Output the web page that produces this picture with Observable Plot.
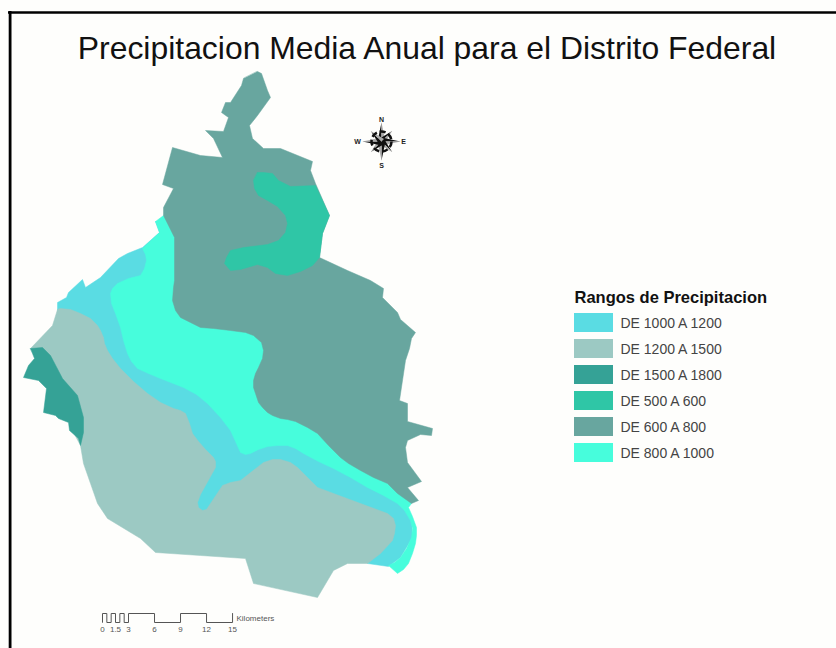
<!DOCTYPE html>
<html><head><meta charset="utf-8">
<script src="https://cdn.jsdelivr.net/npm/d3@7"></script>
<script src="https://cdn.jsdelivr.net/npm/@observablehq/plot@0.6"></script>
<style>html,body{margin:0;padding:0;background:#fefefc}svg{display:block}</style>
</head><body><div id="chart"></div>
<script>
const titleText = "Precipitacion Media Anual para el Distrito Federal";
const legendTitle = "Rangos de Precipitacion";
const rangeLabels = ["DE 1000 A 1200","DE 1200 A 1500","DE 1500 A 1800","DE 500 A 600","DE 600 A 800","DE 800 A 1000"];
const rangeColors = ["#5adce3","#9cc9c3","#35a296","#2fc6a6","#68a69f","#47fddc"];
const kmTicks = [0,1.5,3,6,9,12,15];
const kmSteps = [0,0,0.5,1,1.5,2,2.5,3,6,9,12,15];

const region1000 = [[155,221],[159,232],[142,247],[127,253],[118,258],[100,277],[85,287],[82,279],[68,292],[66,297],[57,302],[57,310],[100,400],[170,470],[195,516],[240,510],[340,510],[367,563],[388,566],[400,557],[412,537],[411,515],[390,490],[300,440],[250,420],[170,320],[165,240]];
const region1200 = [[57,309],[52,325],[30,348],[40,362],[60,400],[72,430],[80,445],[83,463],[90,483],[97,503],[107,518],[140,538],[155,552],[200,555],[245,558],[253,583],[317,597],[333,570],[347,563],[367,563],[380,553],[392,540],[394,533],[395,525],[393,518],[387,513],[360,503],[333,493],[317,487],[307,477],[297,467],[290,462],[280,459],[272,459],[263,462],[240,480],[230,482],[222,485],[216,494],[210,503],[206,509],[202,510],[198,507],[197,502],[200,494],[205,485],[210,476],[215,467],[215,461],[213,457],[205,449],[198,441],[192,433],[189,423],[185,413],[180,410],[173,408],[160,402],[147,393],[133,381],[120,368],[112,358],[107,350],[104,343],[103,337],[100,330],[97,325],[90,318],[80,313],[70,309],[60,308]];
const region1500 = [[30,348],[42,347],[50,355],[62,378],[77,395],[83,417],[83,432],[80,445],[78,438],[69,430],[68,422],[58,418],[55,415],[43,412],[46,388],[38,380],[23,377],[28,365],[34,358],[32,353]];
const region800 = [[163,215],[155,221],[159,232],[142,248],[145,254],[146,260],[144,268],[140,275],[128,278],[117,283],[112,288],[110,293],[111,303],[115,313],[120,327],[123,340],[127,353],[131,361],[137,368],[148,373],[160,378],[183,387],[196,394],[207,403],[220,417],[230,430],[235,441],[240,452],[245,454],[250,453],[258,449],[267,446],[277,445],[287,445],[295,448],[303,453],[318,461],[333,468],[350,477],[367,487],[383,495],[397,503],[404,510],[410,520],[412,528],[411,537],[406,548],[400,557],[394,562],[388,565],[397,573],[403,569],[408,563],[412,553],[415,543],[416,535],[416,527],[412,516],[408,507],[411,503],[400,480],[320,400],[300,320],[200,240]];
const region600 = [[257,71],[261,73],[267,90],[270,97],[257,115],[249,125],[252,138],[263,148],[280,148],[312,161],[310,170],[315,183],[329,215],[322,233],[319,257],[347,270],[370,280],[383,288],[382,297],[397,312],[400,319],[415,332],[411,338],[409,348],[405,360],[399,400],[407,403],[407,421],[432,428],[431,435],[420,434],[407,440],[405,447],[407,462],[421,481],[407,487],[418,500],[411,503],[397,493],[387,483],[373,477],[360,470],[348,463],[340,457],[328,445],[317,433],[307,427],[295,421],[287,419],[280,418],[272,415],[267,412],[262,407],[258,402],[255,393],[253,387],[253,380],[255,373],[258,367],[262,358],[263,350],[261,342],[253,335],[245,332],[230,330],[213,328],[200,327],[190,322],[180,317],[175,310],[172,300],[173,287],[174,280],[174,237],[163,215],[163,207],[173,188],[162,184],[172,147],[200,155],[222,157],[213,138],[205,130],[223,131],[228,117],[221,112],[225,102],[230,102],[241,85],[243,78]];
const region500 = [[257,172],[263,172],[272,173],[278,180],[290,186],[315,185],[329,215],[322,233],[319,257],[312,265],[300,271],[287,275],[275,273],[267,267],[257,264],[240,269],[230,270],[224,263],[226,257],[230,250],[243,247],[267,244],[278,240],[285,232],[287,223],[285,215],[277,206],[267,200],[258,195],[254,188],[253,180]];

const poly = (pts, fill) => Plot.line(pts, {x: d => d[0], y: d => d[1], fill, stroke: fill, strokeWidth: 0.5, curve: "linear-closed"});

// legend layout
const legendRows = rangeLabels.map((label, i) => ({label, color: rangeColors[i], top: 313 + i * 26}));

// scale bar layout
const kmX = km => 102 + km * 8.67;
const barPts = kmSteps.map((km, i) => ({x: kmX(km), y: i % 2 === 1 ? 613 : 622}));

// compass
const cx = 381, cy = 141;
const compass = [];
for (let k = 0; k < 8; k++) {
  const a = k * Math.PI / 4, long = k % 2 === 0, r = long ? 19 : 15, w = long ? 4 : 3.5;
  const tip = [cx + r * Math.sin(a), cy - r * Math.cos(a)];
  const left = [cx + w * Math.sin(a - Math.PI / 2), cy - w * Math.cos(a - Math.PI / 2)];
  const right = [cx + w * Math.sin(a + Math.PI / 2), cy - w * Math.cos(a + Math.PI / 2)];
  compass.push({pts: [[cx, cy], left, tip], fill: "#111"});
  compass.push({pts: [[cx, cy], tip, right], fill: "#aaa"});
}

const font = "Liberation Sans";
const chart = Plot.plot({
  width: 836, height: 648,
  margin: 0,
  x: {domain: [0, 836], range: [0, 836], axis: null},
  y: {domain: [0, 648], range: [0, 648], axis: null},
  style: {background: "#fefefc", fontFamily: font},
  marks: [
    Plot.ruleY([12], {x1: 8, x2: 836, stroke: "#000", strokeWidth: 2.6}),
    Plot.ruleX([9.6], {y1: 11, y2: 648, stroke: "#000", strokeWidth: 2.8}),
    Plot.text([titleText], {x: 426.5, y: 48, text: d => d, fontSize: 31.9, fill: "#111", textAnchor: "middle", lineAnchor: "middle"}),
    poly(region1000, rangeColors[0]),
    poly(region1200, rangeColors[1]),
    poly(region1500, rangeColors[2]),
    poly(region800, rangeColors[5]),
    poly(region600, rangeColors[4]),
    poly(region500, rangeColors[3]),
    // compass
    ...compass.map(c => Plot.line(c.pts, {x: d => d[0], y: d => d[1], fill: c.fill, stroke: "none", curve: "linear-closed"})),
    Plot.dot([[cx, cy]], {x: d => d[0], y: d => d[1], r: 10, stroke: "#111", strokeWidth: 2.5, strokeDasharray: "6 3", fill: "none"}),
    Plot.text([{t:"N",x:cx,y:119},{t:"S",x:cx,y:165},{t:"W",x:357,y:141},{t:"E",x:403,y:141}], {x:"x", y:"y", text:"t", fontSize: 7, fontWeight: "bold", fill:"#222"}),
    // legend
    Plot.text([legendTitle], {x: 574, y: 297, text: d => d, fontSize: 16.5, fontWeight: "bold", fill: "#111", textAnchor: "start"}),
    Plot.rect(legendRows, {x1: 574, x2: 613, y1: "top", y2: d => d.top + 19, fill: "color"}),
    Plot.text(legendRows, {x: 620, y: d => d.top + 10, text: "label", fontSize: 14, fill: "#444", textAnchor: "start"}),
    // scale bar
    Plot.line(barPts, {x: "x", y: "y", curve: "step-after", stroke: "#555", strokeWidth: 1}),
    Plot.text(kmTicks, {x: kmX, y: 629, text: d => String(d), fontSize: 8, fill: "#555"}),
    Plot.text(["Kilometers"], {x: 236, y: 618, text: d => d, fontSize: 8, fill: "#555", textAnchor: "start"})
  ]
});
document.getElementById("chart").append(chart);
</script></body></html>
